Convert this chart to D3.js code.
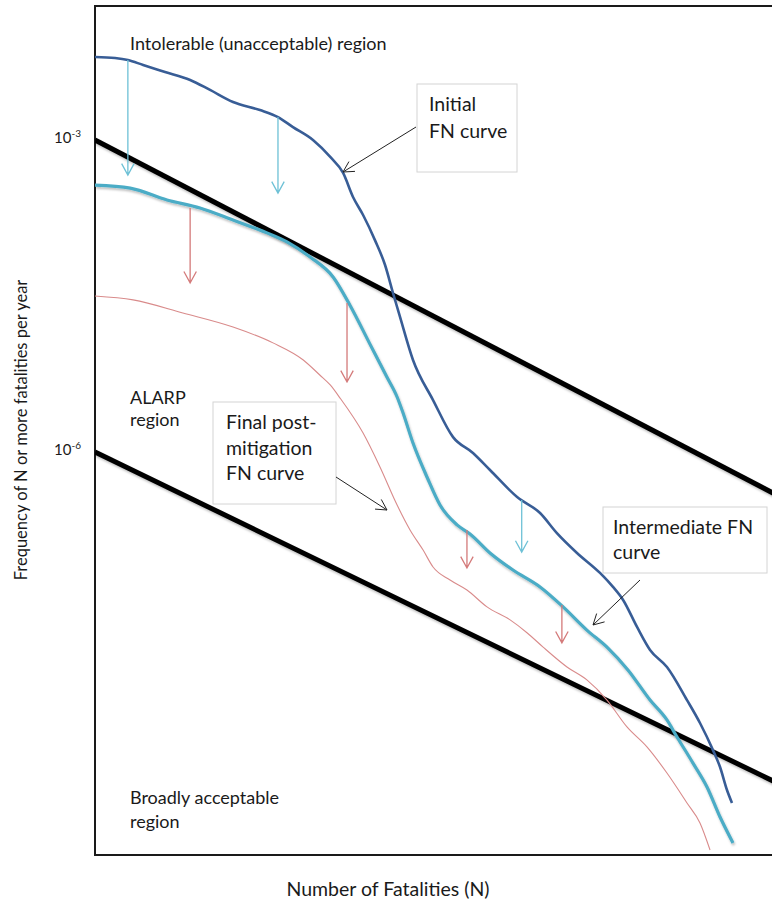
<!DOCTYPE html>
<html>
<head>
<meta charset="utf-8">
<script src="https://cdn.jsdelivr.net/npm/d3@7"></script>
<style>
  body { margin: 0; background: #fff; }
  svg { display: block; }
  text { font-family: Lato, "Open Sans", sans-serif; fill: #1a1a1a; }
</style>
</head>
<body>
<svg id="chart" width="772" height="905"></svg>
<script>
// ---------------- DATA ----------------
// Initial FN curve: N (fatalities) vs F (frequency of N or more per year)
const initialN = [1, 1.26, 1.46, 1.74, 2.24, 2.99, 3.76, 4.90, 6.68, 8.22, 9.77, 12.3, 15.0, 17.4, 19.5, 21.9, 25.1, 28.2, 30.9, 33.5, 38.9, 49.0, 61.7, 77.6, 94.4, 129, 168, 204, 257, 335, 389, 437, 513, 596, 724, 912, 1059, 1230, 1334, 1445, 1531];
const initialF = [6.28e-3, 6.14e-3, 5.88e-3, 5.26e-3, 4.51e-3, 3.78e-3, 3.03e-3, 2.32e-3, 1.94e-3, 1.66e-3, 1.33e-3, 1.0e-3, 6.87e-4, 4.82e-4, 2.83e-4, 1.90e-4, 1.09e-4, 6.28e-5, 3.38e-5, 1.99e-5, 7.67e-6, 3.16e-6, 1.39e-6, 9.78e-7, 6.71e-7, 3.69e-7, 2.59e-7, 1.66e-7, 1.07e-7, 6.87e-8, 5.04e-8, 3.78e-8, 2.08e-8, 1.25e-8, 8.57e-9, 4.12e-9, 2.48e-9, 1.36e-9, 9.35e-10, 5.62e-10, 4.22e-10];

// Intermediate FN curve
const intermediateN = [1, 1.50, 2.29, 3.35, 4.90, 7.24, 9.12, 11.9, 15.5, 18.8, 23.7, 28.8, 32.4, 34.7, 38.9, 45.7, 53.1, 64.6, 75.0, 94.4, 123, 168, 219, 288, 363, 462, 596, 724, 813, 977, 1148, 1334, 1549];
const intermediateF = [3.69e-4, 3.45e-4, 2.65e-4, 2.22e-4, 1.70e-4, 1.28e-4, 1.05e-4, 7.50e-5, 4.82e-5, 2.59e-5, 1.09e-5, 5.26e-6, 3.38e-6, 2.37e-6, 1.22e-6, 5.75e-7, 3.09e-7, 1.99e-7, 1.63e-7, 1.07e-7, 7.33e-8, 5.04e-8, 3.24e-8, 1.94e-8, 1.33e-8, 8.02e-9, 4.12e-9, 2.65e-9, 1.82e-9, 1.02e-9, 6.01e-10, 3.09e-10, 1.74e-10];

// Final post-mitigation FN curve
const finalN = [1, 1.55, 2.75, 4.90, 7.76, 11.0, 13.3, 15.0, 16.8, 21.9, 26.6, 32.4, 37.6, 43.7, 49.0, 59.6, 72.4, 91.2, 119, 145, 174, 229, 288, 363, 457, 575, 724, 912, 1059, 1189];
const finalF = [3.16e-5, 2.90e-5, 2.17e-5, 1.59e-5, 1.12e-5, 7.67e-6, 5.50e-6, 4.41e-6, 3.30e-6, 1.52e-6, 7.18e-7, 3.09e-7, 1.78e-7, 1.14e-7, 7.84e-8, 5.88e-8, 4.71e-8, 3.24e-8, 2.43e-8, 1.82e-8, 1.33e-8, 8.57e-9, 6.43e-9, 4.12e-9, 2.27e-9, 1.46e-9, 8.19e-10, 4.22e-10, 2.71e-10, 1.49e-10];

// Criterion lines (upper = intolerable limit, lower = broadly acceptable limit)
const upperLineN = [1, 3000];
const upperLineF = [1e-3, 3.3e-7];
const lowerLineN = [1, 3000];
const lowerLineF = [1e-6, 5.7e-10];

// Mitigation arrows: N, from F, to F
const blueArrowN = [1.46, 8.22, 136];
const blueArrowFrom = [5.88e-3, 1.66e-3, 3.45e-7];
const blueArrowTo = [4.60e-4, 3.09e-4, 1.09e-7];
const redArrowN = [2.99, 18.2, 72.4, 216];
const redArrowFrom = [2.22e-4, 2.71e-5, 1.78e-7, 3.38e-8];
const redArrowTo = [4.22e-5, 4.71e-6, 7.67e-8, 1.46e-8];

// Tick labels
const yTickValues = [1e-3, 1e-6];
const yTickExponents = ["-3", "-6"];

// ---------------- LAYOUT ----------------
const svg = d3.select("#chart");
const plot = { left: 95, top: 6, bottom: 855, right: 800 };

const x = d3.scaleLog().domain([1, Math.pow(10, 3.5)]).range([95, 795]);
const y = d3.scaleLog().domain([1e-3, 1e-6]).range([140, 452]);

const defs = svg.append("defs");
const shadow = defs.append("filter").attr("id", "shadow")
  .attr("x", "-10%").attr("y", "-10%").attr("width", "120%").attr("height", "130%");
shadow.append("feDropShadow").attr("dx", 1).attr("dy", 2).attr("stdDeviation", 1.2)
  .attr("flood-color", "#000").attr("flood-opacity", 0.25);

const clip = defs.append("clipPath").attr("id", "plotclip");
clip.append("rect").attr("x", plot.left).attr("y", plot.top)
  .attr("width", plot.right - plot.left).attr("height", plot.bottom - plot.top);

// Frame
svg.append("path")
  .attr("d", `M${plot.right},${plot.top}H${plot.left}V${plot.bottom}H${plot.right}`)
  .attr("fill", "none").attr("stroke", "#1a1a1a").attr("stroke-width", 2);

// Y axis tick labels
const yAxis = d3.axisLeft(y).tickValues(yTickValues).tickSize(0).tickFormat(() => "");
const yAxisG = svg.append("g").attr("transform", `translate(${plot.left},0)`).call(yAxis);
yAxisG.select(".domain").remove();
yAxisG.selectAll(".tick text").each(function(d, i) {
  const t = d3.select(this).attr("x", -14).attr("dy", "0.15em")
    .style("font-family", "Lato, sans-serif").style("font-size", "15px").attr("fill", "#1a1a1a");
  t.append("tspan").text("10");
  t.append("tspan").attr("dy", "-0.6em").style("font-size", "10px").text(yTickExponents[i]);
});

const g = svg.append("g").attr("clip-path", "url(#plotclip)");

const line = d3.line().x(d => x(d[0])).y(d => y(d[1]));
const curve = d3.line().x(d => x(d[0])).y(d => y(d[1])).curve(d3.curveMonotoneX);
const zip = (a, b) => a.map((v, i) => [v, b[i]]);

// Criterion lines
[[upperLineN, upperLineF], [lowerLineN, lowerLineF]].forEach(([n, f]) => {
  g.append("path").datum(zip(n, f)).attr("d", line)
    .attr("fill", "none").attr("stroke", "#000").attr("stroke-width", 5)
    .attr("filter", "url(#shadow)");
});

// Final curve (thin red)
g.append("path").datum(zip(finalN, finalF)).attr("d", curve)
  .attr("fill", "none").attr("stroke", "#d98b8b").attr("stroke-width", 1.1);

// Intermediate curve (light blue)
g.append("path").datum(zip(intermediateN, intermediateF)).attr("d", curve)
  .attr("fill", "none").attr("stroke", "#4bacc6").attr("stroke-width", 3.2)
  .attr("stroke-linejoin", "round").attr("filter", "url(#shadow)");

// Initial curve (dark blue)
g.append("path").datum(zip(initialN, initialF)).attr("d", curve)
  .attr("fill", "none").attr("stroke", "#385d96").attr("stroke-width", 2.6)
  .attr("stroke-linejoin", "round");

// Mitigation arrows
function drawArrow(parent, x1, y1, x2, y2, color, w, head) {
  const ang = Math.atan2(y2 - y1, x2 - x1);
  const a1 = ang + Math.PI - 0.5, a2 = ang + Math.PI + 0.5;
  parent.append("path")
    .attr("d", `M${x1},${y1}L${x2},${y2}M${x2 + head * Math.cos(a1)},${y2 + head * Math.sin(a1)}L${x2},${y2}L${x2 + head * Math.cos(a2)},${y2 + head * Math.sin(a2)}`)
    .attr("fill", "none").attr("stroke", color).attr("stroke-width", w);
}
blueArrowN.forEach((n, i) => drawArrow(g, x(n), y(blueArrowFrom[i]), x(n), y(blueArrowTo[i]), "#6ec1d6", 1.3, 13));
redArrowN.forEach((n, i) => drawArrow(g, x(n), y(redArrowFrom[i]), x(n), y(redArrowTo[i]), "#d47a7a", 1.3, 13));

// Text helper
function label(lines, x0, y0, lh, size) {
  const t = svg.append("text").attr("x", x0).attr("y", y0).style("font-size", size);
  lines.forEach((s, i) => t.append("tspan").attr("x", x0).attr("dy", i === 0 ? 0 : lh).text(s));
}
// Region labels
label(["Intolerable (unacceptable) region"], 130, 49.5, 0, "18px");
label(["ALARP", "region"], 130, 403.5, 22.5, "18px");
label(["Broadly acceptable", "region"], 130, 804, 24, "18px");

// Annotation boxes
function box(bx, by, bw, bh, lines, tx, ty, lh, lx1, ly1, lx2, ly2) {
  svg.append("rect").attr("x", bx).attr("y", by).attr("width", bw).attr("height", bh)
    .attr("fill", "#fff").attr("stroke", "#d4d4d4").attr("stroke-width", 1);
  label(lines, tx, ty, lh, "19.5px");
  drawArrow(svg, lx1, ly1, lx2, ly2, "#222", 1, 12);
}
box(417, 84, 100, 88, ["Initial", "FN curve"], 429, 111, 27, 416, 127, 343, 172);
box(213, 402, 123, 102, ["Final post-", "mitigation", "FN curve"], 226, 429, 25.5, 336, 477, 387, 510);
box(603, 507, 164, 66, ["Intermediate FN", "curve"], 613, 534, 25, 640, 580, 593, 625);

// Axis titles
svg.append("text").attr("transform", "translate(27,430) rotate(-90)")
  .attr("text-anchor", "middle").style("font-size", "16.5px")
  .text("Frequency of N or more fatalities per year");
svg.append("text").attr("x", 388).attr("y", 896).attr("text-anchor", "middle")
  .style("font-size", "19.5px").text("Number of Fatalities (N)");
</script>
</body>
</html>
